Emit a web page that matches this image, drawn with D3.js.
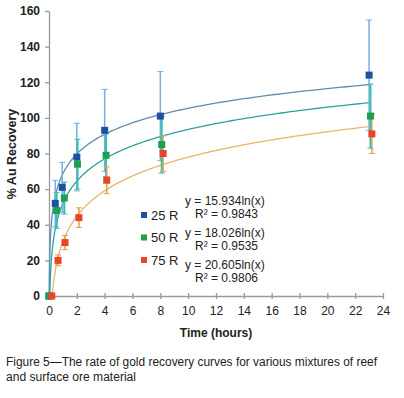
<!DOCTYPE html>
<html lang="en">
<head>
<meta charset="UTF-8">
<title>Figure 5</title>
<script src="https://d3js.org/d3.v7.min.js"></script>
<style>
  body { margin: 0; background: #fff; }
  svg text { font-family: Arial, "Liberation Sans", sans-serif; fill: #222; }
</style>
</head>
<body>
<div class="chart"></div>
<script>
// data
const seriesNames = ['25 R', '50 R', '75 R'];
const hours25 = [0, 0.45, 0.95, 2, 4, 8, 23];
const hours50 = [0, 0.55, 1.1, 2.05, 4.1, 8.1, 23.1];
const hours75 = [0.2, 0.65, 1.15, 2.15, 4.15, 8.2, 23.2];
const recovery25 = [0, 52, 61, 78, 93, 101, 124];
const recovery50 = [0, 48, 55, 74, 79, 85, 101];
const recovery75 = [0, 20, 30, 44, 65, 80, 91];
const error25 = [0, 13, 14, 19, 23, 25, 31];
const error50 = [0, 10, 9, 14, 12, 16, 18];
const error75 = [0, 3, 4, 5.5, 7.5, 10, 11];
// trendline y = a ln(x) (+ offset as drawn)
const trendSlope = [15.934, 18.026, 20.605];
const trendOffset = [68.7, 52, 30.5];
const equations = ['y = 15.934ln(x)', 'y = 18.026ln(x)', 'y = 20.605ln(x)'];
const rSquared = ['R² = 0.9843', 'R² = 0.9535', 'R² = 0.9806'];
const xTicks = [0, 2, 4, 6, 8, 10, 12, 14, 16, 18, 20, 22, 24];
const yTicks = [0, 20, 40, 60, 80, 100, 120, 140, 160];

const width = 404, height = 398;
const markerColor = ['#1f4fa0', '#1ca04c', '#ea4326'];
const barColor = ['#79aee0', '#35bdb0', '#d9a24e'];
const curveColor = ['#5d8cb0', '#2aa39a', '#eab468'];

const svg = d3.select('.chart').append('svg')
  .attr('width', width).attr('height', height);

const x = d3.scaleLinear().domain([0, 24]).range([49, 383]);
const y = d3.scaleLinear().domain([0, 160]).range([296, 11]);

// axes
const xAxis = svg.append('g').attr('transform', 'translate(0,296)')
  .call(d3.axisBottom(x).tickValues(xTicks).tickSize(3).tickSizeOuter(0));
xAxis.selectAll('.tick line').attr('y1', -3);
xAxis.selectAll('text').attr('font-size', 12).attr('dy', '1.05em');

const yAxis = svg.append('g').attr('transform', 'translate(49,0)')
  .call(d3.axisLeft(y).tickValues(yTicks).tickSize(4).tickSizeOuter(0));
yAxis.selectAll('text').attr('font-size', 12).attr('font-weight', 'bold').attr('x', -9);

svg.selectAll('.domain, .tick line').attr('stroke', '#9a9a9a').attr('stroke-width', 1.3);

svg.append('text').attr('x', 216).attr('y', 337).attr('text-anchor', 'middle')
  .attr('font-size', 12).attr('font-weight', 'bold').text('Time (hours)');
svg.append('text').attr('transform', 'translate(16,154) rotate(-90)')
  .attr('text-anchor', 'middle').attr('font-size', 12.5).attr('font-weight', 'bold')
  .text('% Au Recovery');

const series = [
  {h: hours25, v: recovery25, e: error25},
  {h: hours50, v: recovery50, e: error50},
  {h: hours75, v: recovery75, e: error75}
];

// trend curves
const line = d3.line().x(d => x(d[0])).y(d => y(d[1]));
series.forEach((s, i) => {
  const start = Math.exp(-trendOffset[i] / trendSlope[i]);
  const pts = d3.range(0, 301).map(k => {
    const t = start * Math.pow(23 / start, k / 300);
    return [t, trendOffset[i] + trendSlope[i] * Math.log(t)];
  });
  svg.append('path').attr('d', line(pts)).attr('fill', 'none')
    .attr('stroke', curveColor[i]).attr('stroke-width', 1.3);
});

// error bars
series.forEach((s, i) => {
  const g = svg.append('g').attr('stroke', barColor[i]).attr('stroke-width', i === 1 ? 2 : 1.5);
  s.v.forEach((v, k) => {
    if (!s.e[k]) return;
    const cx = x(s.h[k]);
    g.append('line').attr('x1', cx).attr('x2', cx)
      .attr('y1', y(v - s.e[k])).attr('y2', y(v + s.e[k]));
    [v - s.e[k], v + s.e[k]].forEach(c => {
      g.append('line').attr('x1', cx - 3).attr('x2', cx + 3)
        .attr('y1', y(c)).attr('y2', y(c)).attr('stroke-width', 1);
    });
  });
});

// markers
series.forEach((s, i) => {
  svg.append('g').selectAll('rect').data(s.v).join('rect')
    .attr('x', (d, k) => x(s.h[k]) - 3.5)
    .attr('y', d => y(d) - 3.5)
    .attr('width', 7).attr('height', 7)
    .attr('fill', markerColor[i]);
});

// legend
seriesNames.forEach((name, i) => {
  const ly = 215 + i * 22.5;
  svg.append('rect').attr('x', 141).attr('y', ly - 3).attr('width', 6).attr('height', 6)
    .attr('fill', markerColor[i]);
  svg.append('text').attr('x', 151).attr('y', ly + 4.5).attr('font-size', 13).text(name);
});

// trend equations
equations.forEach((eq, i) => {
  const ey = 205 + i * 32;
  svg.append('text').attr('x', 185).attr('y', ey).attr('font-size', 12).text(eq);
  svg.append('text').attr('x', 195).attr('y', ey + 12.5).attr('font-size', 12).text(rSquared[i]);
});

// caption
svg.append('text').attr('x', 6).attr('y', 366).attr('font-size', 12.5)
  .attr('textLength', 371).attr('lengthAdjust', 'spacingAndGlyphs')
  .text('Figure 5\u2014The rate of gold recovery curves for various mixtures of reef');
svg.append('text').attr('x', 6).attr('y', 381).attr('font-size', 12.5)
  .attr('textLength', 130).attr('lengthAdjust', 'spacingAndGlyphs')
  .text('and surface ore material');
</script>
</body>
</html>
